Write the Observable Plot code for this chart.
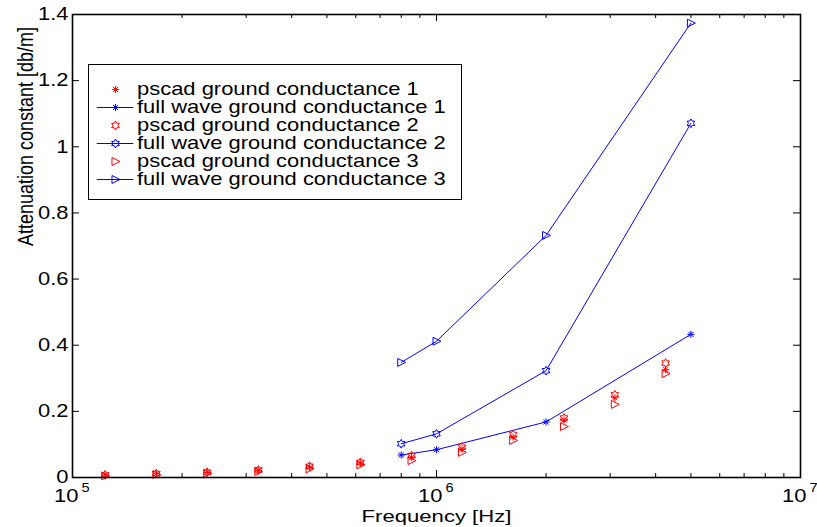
<!DOCTYPE html>
<html><head><meta charset="utf-8">
<script src="https://cdn.jsdelivr.net/npm/d3@7"></script>
<script src="https://cdn.jsdelivr.net/npm/@observablehq/plot@0.6"></script>
<style>
body{margin:0;background:#fff;}
#wrap{position:relative;width:817px;height:527px;font-family:"Liberation Sans",Arial,sans-serif;}
#legend{position:absolute;left:88px;top:64px;width:374px;height:136px;box-sizing:border-box;border:1px solid #000;background:#fff;}
#legend svg, #chart svg{display:block;}
</style></head><body>
<div id="wrap"><div id="chart"></div><div id="legend"></div></div>
<script>
// ---- data ----
const pscadFreq = [1.23e5, 1.70e5, 2.345e5, 3.24e5, 4.48e5, 6.18e5, 8.54e5, 1.175e6, 1.624e6, 2.24e6, 3.09e6, 4.26e6];
const pscad1 = [0.007, 0.011, 0.015, 0.021, 0.032, 0.044, 0.061, 0.086, 0.122, 0.174, 0.241, 0.326];
const pscad2 = [0.008, 0.012, 0.016, 0.023, 0.034, 0.046, 0.066, 0.092, 0.130, 0.180, 0.250, 0.346];
const pscad3 = [0.005, 0.009, 0.013, 0.018, 0.026, 0.038, 0.051, 0.076, 0.112, 0.154, 0.221, 0.314];
const fwFreq = [8e5, 1e6, 2e6, 5e6];
const fw1 = [0.068, 0.084, 0.168, 0.433];
const fw2 = [0.102, 0.132, 0.323, 1.071];
const fw3 = [0.348, 0.412, 0.732, 1.374];
const seriesLabels = [
  "pscad ground conductance 1",
  "full wave ground conductance 1",
  "pscad ground conductance 2",
  "full wave ground conductance 2",
  "pscad ground conductance 3",
  "full wave ground conductance 3"
];
const yTicks = [0, 0.2, 0.4, 0.6, 0.8, 1, 1.2, 1.4];
const yTickLabels = ["0", "0.2", "0.4", "0.6", "0.8", "1", "1.2", "1.4"];
const xMajorTicks = [1e5, 1e6, 1e7];
const xTickBase = ["10", "10", "10"];
const xTickExp = ["5", "6", "7"];
const xLabel = "Frequency [Hz]";
const yLabel = "Attenuation constant [db/m]";

// ---- layout ----
const W = 817, H = 527, mL = 72, mR = 17, mT = 14, mB = 50;
const pW = W - mL - mR, pH = H - mT - mB;
const RED = "#ff0000", BLUE = "#0000ff";
const STRETCH = 1.22;
const FS = 18;

const xMinorTicks = [];
for (const dec of [1e5, 1e6]) for (let k = 2; k <= 9; k++) xMinorTicks.push(k * dec);

// ---- marker symbols (MATLAB-like) ----
const rad = s => Math.sqrt(s / Math.PI);
const symAsterisk = {draw(ctx, size) {
  const r = rad(size), d = r * Math.SQRT1_2;
  ctx.moveTo(-r, 0); ctx.lineTo(r, 0);
  ctx.moveTo(0, -r); ctx.lineTo(0, r);
  ctx.moveTo(-d, -d); ctx.lineTo(d, d);
  ctx.moveTo(-d, d); ctx.lineTo(d, -d);
}};
const symHexagram = {draw(ctx, size) {
  const r = rad(size), ri = r / Math.sqrt(3);
  for (let i = 0; i < 12; i++) {
    const a = -Math.PI / 2 + i * Math.PI / 6, rr = i % 2 ? ri : r;
    const x = rr * Math.cos(a), y = rr * Math.sin(a);
    if (i) ctx.lineTo(x, y); else ctx.moveTo(x, y);
  }
  ctx.closePath();
}};
const symTriRight = {draw(ctx, size) {
  const r = rad(size);
  ctx.moveTo(r, 0); ctx.lineTo(-0.8 * r, -0.9 * r); ctx.lineTo(-0.8 * r, 0.9 * r); ctx.closePath();
}};

const mk = (xs, ys) => xs.map((x, i) => ({x, y: ys[i]}));
const series = [
  {data: mk(pscadFreq, pscad1), sym: symAsterisk, color: RED, line: false, r: 3.6},
  {data: mk(fwFreq, fw1), sym: symAsterisk, color: BLUE, line: true, r: 3.6},
  {data: mk(pscadFreq, pscad2), sym: symHexagram, color: RED, line: false, r: 4.4},
  {data: mk(fwFreq, fw2), sym: symHexagram, color: BLUE, line: true, r: 4.4},
  {data: mk(pscadFreq, pscad3), sym: symTriRight, color: RED, line: false, r: 4.4},
  {data: mk(fwFreq, fw3), sym: symTriRight, color: BLUE, line: true, r: 4.4}
];

const seriesMarks = series.flatMap(s => [
  s.line ? Plot.line(s.data, {x: "x", y: "y", stroke: s.color, strokeWidth: 1}) : null,
  Plot.dot(s.data, {x: "x", y: "y", symbol: s.sym, r: s.r, stroke: s.color, fill: "none", strokeWidth: 1})
]);

const chart = Plot.plot({
  width: W, height: H,
  marginLeft: mL, marginRight: mR, marginTop: mT, marginBottom: mB,
  style: {fontFamily: "'Liberation Sans', Arial, sans-serif", background: "#fff", color: "#000"},
  x: {type: "log", domain: [1e5, 1e7], axis: null},
  y: {domain: [0, 1.4], axis: null},
  marks: [
    // inward ticks (MATLAB style) on all four sides
    Plot.ruleX(xMajorTicks, {x: d => d, insetTop: pH - 7, stroke: "#000"}),
    Plot.ruleX(xMajorTicks, {x: d => d, insetBottom: pH - 7, stroke: "#000"}),
    Plot.ruleX(xMinorTicks, {x: d => d, insetTop: pH - 4, stroke: "#000"}),
    Plot.ruleX(xMinorTicks, {x: d => d, insetBottom: pH - 4, stroke: "#000"}),
    Plot.ruleY(yTicks, {y: d => d, insetRight: pW - 7, stroke: "#000"}),
    Plot.ruleY(yTicks, {y: d => d, insetLeft: pW - 7, stroke: "#000"}),
    ...seriesMarks,
    Plot.frame({stroke: "#000", strokeWidth: 1.6}),
    // tick labels
    Plot.text(yTicks, {y: d => d, text: (d, i) => yTickLabels[i], frameAnchor: "left", textAnchor: "end", dx: -4, fontSize: FS, fill: "#000"}),
    Plot.text(xMajorTicks, {x: d => d, text: (d, i) => xTickBase[i], frameAnchor: "bottom", textAnchor: "end", lineAnchor: "bottom", dx: 6, dy: 24, fontSize: FS, fill: "#000"}),
    Plot.text(xMajorTicks, {x: d => d, text: (d, i) => xTickExp[i], frameAnchor: "bottom", textAnchor: "start", lineAnchor: "bottom", dx: 9, dy: 14, fontSize: 12, fill: "#000"}),
    // axis titles
    Plot.text([xLabel], {text: d => d, frameAnchor: "bottom", lineAnchor: "bottom", dy: 44, fontSize: 17, fill: "#000"}),
    Plot.text([yLabel], {text: d => d, frameAnchor: "left", rotate: -90, lineAnchor: "bottom", dx: -40, fontSize: FS, fill: "#000"})
  ]
});
document.getElementById("chart").appendChild(chart);

// ---- legend (small Plot of its own) ----
const LW = 372, LH = 134;
const legendRows = series.map((s, i) => ({label: seriesLabels[i], sym: s.sym, color: s.color, line: s.line, r: s.r}));
const legend = Plot.plot({
  width: LW, height: LH, margin: 0,
  style: {fontFamily: "'Liberation Sans', Arial, sans-serif", background: "#fff", color: "#000"},
  y: {type: "point", domain: seriesLabels, range: [14.5, 123], axis: null},
  marks: legendRows.flatMap(row => [
    row.line ? Plot.ruleY([row.label], {y: d => d, insetLeft: 7.7, insetRight: LW - 44.3, stroke: row.color, strokeWidth: 1}) : null,
    Plot.dot([row.label], {y: d => d, frameAnchor: "left", dx: 26, symbol: row.sym, r: row.r, stroke: row.color, fill: "none", strokeWidth: 1}),
    Plot.text([row.label], {y: d => d, text: d => d, frameAnchor: "left", textAnchor: "start", dx: 47.5, fontSize: FS, fill: "#000"})
  ])
});
document.getElementById("legend").appendChild(legend);

// The reference's lettering is horizontally wide; stretch glyphs about their anchors.
function stretchText(svg, kDefault, special) {
  svg.querySelectorAll("text").forEach(t => {
    const k = (special && special[t.textContent]) || kDefault;
    let tr = t.getAttribute("transform");
    if (!tr) {
      const x = +(t.getAttribute("x") || 0), y = +(t.getAttribute("y") || 0);
      t.removeAttribute("x"); t.removeAttribute("y");
      tr = `translate(${x},${y})`;
    }
    const rotated = /rotate\(/.test(tr);
    t.setAttribute("transform", tr + (rotated ? ` scale(1,${k})` : ` scale(${k},1)`));
  });
}
stretchText(chart, STRETCH, {[xLabel]: 1.3});
stretchText(legend, STRETCH);
</script>
</body></html>
